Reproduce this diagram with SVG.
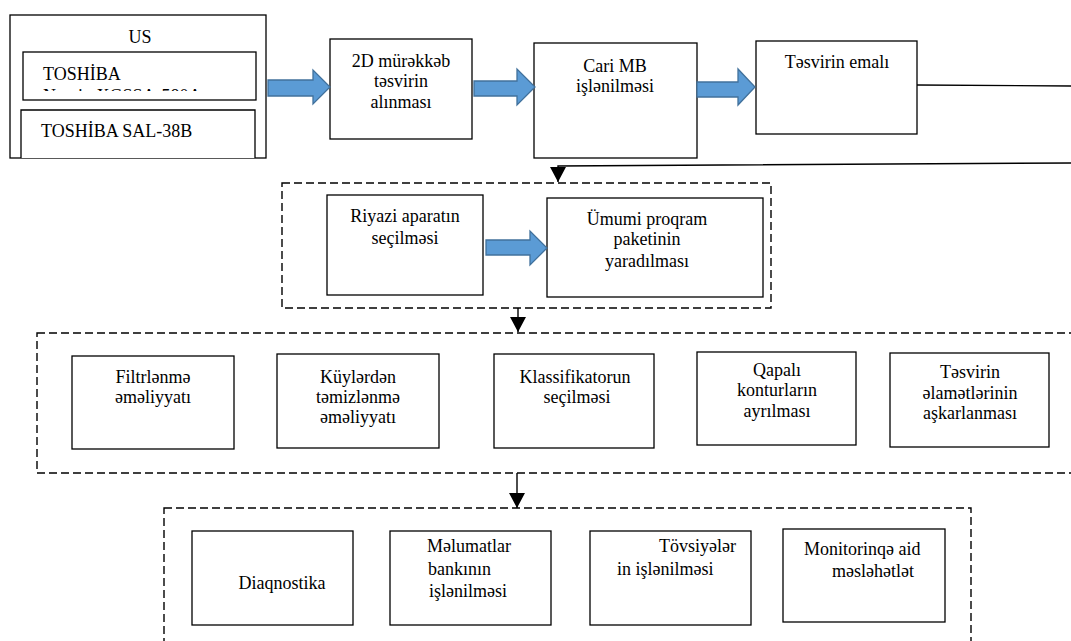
<svg xmlns="http://www.w3.org/2000/svg" width="1071" height="641" viewBox="0 0 1071 641" font-family="'Liberation Serif', 'Times New Roman', serif">
<style>
.box{fill:#fff;stroke:#000;stroke-width:1.3}
.dash{fill:none;stroke:#000;stroke-width:1.4;stroke-dasharray:8 4}
.blue{fill:#5B9BD5;stroke:#41719C;stroke-width:1.3}
.ln{fill:none;stroke:#000;stroke-width:1.4}
text{font-family:"Liberation Serif","Times New Roman",serif;font-size:18px;fill:#000}
.c{text-anchor:middle}
</style>
<defs>
<marker id="ah" markerUnits="userSpaceOnUse" markerWidth="15" markerHeight="16" refX="15" refY="8" orient="auto">
<path d="M0,0 L15,8 L0,16 z" fill="#000"/>
</marker>
<clipPath id="clipN"><rect x="23" y="52" width="233" height="39"/></clipPath>
</defs>
<rect width="1071" height="641" fill="#fff"/>

<g id="us">
<rect class="box" x="10" y="15" width="256" height="143"/>
<text class="c" x="140" y="43">US</text>
<rect class="box" x="23" y="52" width="233" height="48"/>
<text x="43" y="80">TOSHİBA</text>
<text x="43" y="102" clip-path="url(#clipN)">Nemio XGSSA-580A</text>
<path class="box" d="M21,158 V110 H255 V158"/>
<text x="41" y="137">TOSHİBA SAL-38B</text>
</g>

<g id="n2d">
<rect class="box" x="330" y="39" width="142" height="100"/>
<text class="c" x="401" y="67">2D mürəkkəb</text>
<text class="c" x="401" y="87">təsvirin</text>
<text class="c" x="401" y="108">alınması</text>
</g>

<g id="cari">
<rect class="box" x="534" y="43" width="163" height="115"/>
<text class="c" x="615" y="72">Cari MB</text>
<text class="c" x="615" y="92">işlənilməsi</text>
</g>

<g id="emal">
<rect class="box" x="756" y="41" width="161" height="93"/>
<text class="c" x="837" y="68">Təsvirin emalı</text>
</g>

<g id="group1">
<rect class="dash" x="282" y="183" width="489" height="125"/>
</g>

<g id="riyazi">
<rect class="box" x="327" y="195" width="156" height="100"/>
<text class="c" x="405" y="222">Riyazi aparatın</text>
<text class="c" x="405" y="244">seçilməsi</text>
</g>

<g id="umumi">
<rect class="box" x="547" y="198" width="216" height="99"/>
<text class="c" x="647" y="225">Ümumi proqram</text>
<text class="c" x="647" y="245">paketinin</text>
<text class="c" x="647" y="267">yaradılması</text>
</g>

<g id="group2">
<rect class="dash" x="37" y="333" width="1050" height="140"/>
</g>

<g id="filtr">
<rect class="box" x="72" y="356" width="162" height="93"/>
<text class="c" x="153" y="383">Filtrlənmə</text>
<text class="c" x="153" y="403">əməliyyatı</text>
</g>

<g id="kuy">
<rect class="box" x="277" y="354" width="162" height="94"/>
<text class="c" x="358" y="383">Küylərdən</text>
<text class="c" x="358" y="403">təmizlənmə</text>
<text class="c" x="358" y="423">əməliyyatı</text>
</g>

<g id="klass">
<rect class="box" x="494" y="354" width="160" height="94"/>
<text class="c" x="575" y="383">Klassifikatorun</text>
<text class="c" x="577" y="403">seçilməsi</text>
</g>

<g id="qapali">
<rect class="box" x="697" y="352" width="159" height="93"/>
<text class="c" x="777" y="376">Qapalı</text>
<text class="c" x="777" y="396">konturların</text>
<text class="c" x="777" y="417">ayrılması</text>
</g>

<g id="alamet">
<rect class="box" x="890" y="353" width="159" height="94"/>
<text class="c" x="970" y="378">Təsvirin</text>
<text class="c" x="970" y="399">əlamətlərinin</text>
<text class="c" x="970" y="419">aşkarlanması</text>
</g>

<g id="group3">
<rect class="dash" x="164" y="508" width="807" height="150"/>
</g>

<g id="diaq">
<rect class="box" x="192" y="531" width="161" height="94"/>
<text class="c" x="282" y="589">Diaqnostika</text>
</g>

<g id="melumat">
<rect class="box" x="390" y="531" width="161" height="94"/>
<text x="427" y="552">Məlumatlar</text>
<text x="428" y="575">bankının</text>
<text x="429" y="597">işlənilməsi</text>
</g>

<g id="tovsiye">
<rect class="box" x="590" y="531" width="161" height="94"/>
<text x="659" y="552">Tövsiyələr</text>
<text x="617" y="575">in işlənilməsi</text>
</g>

<g id="monitor">
<rect class="box" x="783" y="529" width="162" height="93"/>
<text x="804" y="555">Monitorinqə aid</text>
<text x="832" y="577">məsləhətlət</text>
</g>

<g id="connectors">
<path class="blue" d="M268,80 H313 V70 L330,87 L313,104 V96 H268 Z"/>
<path class="blue" d="M474,81 H517 V69 L535,87 L517,105 V96 H474 Z"/>
<path class="blue" d="M697,82 H738 V69 L755,87 L738,105 V97 H697 Z"/>
<path class="blue" d="M486,240 H530 V231 L547,248 L530,265 V255 H486 Z"/>
<path class="ln" d="M917,85 L1071,86"/>
<path class="ln" d="M1071,163 L558,166 L558,182" marker-end="url(#ah)"/>
<path class="ln" d="M518,308 L518,332" marker-end="url(#ah)"/>
<path class="ln" d="M517,473 L517,508" marker-end="url(#ah)"/>
</g>
</svg>
